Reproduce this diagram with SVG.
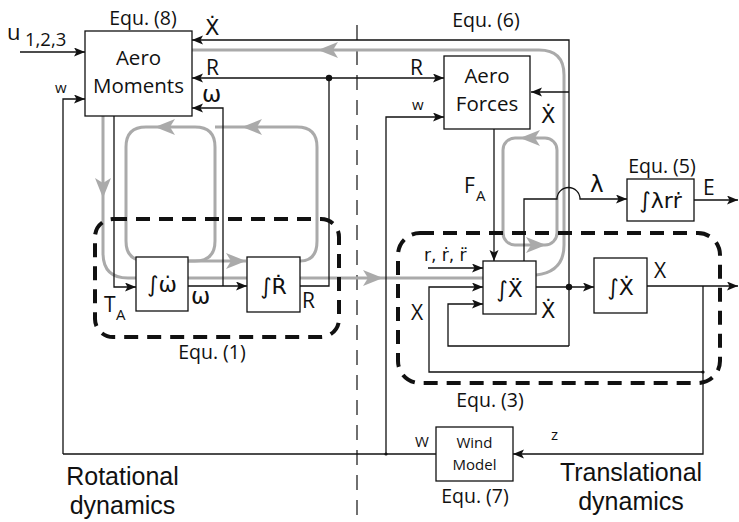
<svg xmlns="http://www.w3.org/2000/svg" width="739" height="522" viewBox="0 0 739 522">
<style>
.t{font-family:"Open Sans","DejaVu Sans",sans-serif;fill:#111}
.m{font-family:"DejaVu Sans","Open Sans",sans-serif;fill:#111}
.big{font-family:"Liberation Sans","Open Sans",sans-serif;fill:#111;font-size:25px;text-anchor:middle}
.eq{font-family:"Open Sans","DejaVu Sans",sans-serif;fill:#111;font-size:19.5px;text-anchor:middle}
.box{fill:#fff;stroke:#111;stroke-width:1.3}
.ln{fill:none;stroke:#111;stroke-width:1.3}
.gr{fill:none;stroke:#aaa;stroke-width:3}
.dsh{fill:none;stroke:#111;stroke-width:4;stroke-dasharray:14 9}
.div{fill:none;stroke:#111;stroke-width:1.2;stroke-dasharray:15 10}
</style>
<defs>
<marker id="ah" markerUnits="userSpaceOnUse" markerWidth="12" markerHeight="10" refX="11" refY="4.5" orient="auto">
<path d="M0,0 L11,4.5 L0,9 L2.5,4.5 z" fill="#111"/>
</marker>
<path id="ga" d="M0,0 L-20,-8 L-15,0 L-20,8 z" fill="#aaa"/>
</defs>

<line class="div" x1="357" y1="25" x2="357" y2="522"/>

<g id="gray-flows">
<path class="gr" d="M103,116 V253 Q103,278 128,278 H483"/>
<path class="gr" d="M188,261 H195 Q215,261 215,241 V147 Q215,127 195,127 H146 Q126,127 126,147 V241 Q126,261 146,261"/>
<path class="gr" d="M300,261 Q317,261 317,241 V147 Q317,127 297,127 H215"/>
<path class="gr" d="M188,261 H246"/>
<path class="gr" d="M536,275 Q564,272 564,245 V75 Q564,50 539,50 H192"/>
<rect class="gr" x="503" y="138" width="54" height="107" rx="12"/>
<use href="#ga" transform="translate(103,198) rotate(90)"/>
<use href="#ga" transform="translate(155,127) rotate(180)"/>
<use href="#ga" transform="translate(242,127) rotate(180)"/>
<use href="#ga" transform="translate(246,261)"/>
<use href="#ga" transform="translate(383,278)"/>
<use href="#ga" transform="translate(318,50) rotate(180)"/>
<use href="#ga" transform="translate(520,138) rotate(180)"/>
<use href="#ga" transform="translate(546,245)"/>
</g>

<g id="connectors">
<path class="ln" d="M20,52 H85" marker-end="url(#ah)"/>
<path class="ln" d="M63,454 V99 H85" marker-end="url(#ah)"/>
<path class="ln" d="M569,346 V40 H192" marker-end="url(#ah)"/>
<path class="ln" d="M569,92 H531" marker-end="url(#ah)"/>
<path class="ln" d="M569,346 H448 V304 H483" marker-end="url(#ah)"/>
<path class="ln" d="M300,286 H329 V78 H192" marker-end="url(#ah)"/>
<path class="ln" d="M329,78 H444" marker-end="url(#ah)"/>
<path class="ln" d="M188,286 H247" marker-end="url(#ah)"/>
<path class="ln" d="M223,286 V108 H192" marker-end="url(#ah)"/>
<path class="ln" d="M114,116 V287 H136" marker-end="url(#ah)"/>
<path class="ln" d="M436,454 H63"/>
<path class="ln" d="M386,454 V117 H444" marker-end="url(#ah)"/>
<path class="ln" d="M647,286 H738" marker-end="url(#ah)"/>
<path class="ln" d="M703,286 V454 H513" marker-end="url(#ah)"/>
<path class="ln" d="M703,372 H429 V287 H483" marker-end="url(#ah)"/>
<path class="ln" d="M494,129 V261" marker-end="url(#ah)"/>
<path class="ln" d="M428,268 H483" marker-end="url(#ah)"/>
<path class="ln" d="M536,287 H594" marker-end="url(#ah)"/>
<path class="ln" d="M524,261 V199 H557 A11.5,11.5 0 0 1 580,199 H627" marker-end="url(#ah)"/>
<path class="ln" d="M694,200 H738" marker-end="url(#ah)"/>
<circle cx="329" cy="78" r="3.2" fill="#111"/>
<circle cx="569" cy="287" r="3.2" fill="#111"/>
<circle cx="386" cy="454" r="1.6" fill="#111"/>
<circle cx="703" cy="372" r="1.6" fill="#111"/>
</g>

<g id="equ1-frame"><rect class="dsh" x="95" y="219" width="244" height="118" rx="18"/></g>
<g id="equ3-frame"><rect class="dsh" x="398" y="233" width="322" height="150" rx="22"/></g>

<g id="aero-moments">
<rect class="box" x="85" y="31" width="107" height="85"/>
<text class="t" x="138.5" y="65" font-size="20.5" text-anchor="middle">Aero</text>
<text class="t" x="138.5" y="93" font-size="20.5" text-anchor="middle">Moments</text>
<text class="eq" x="143" y="25">Equ. (8)</text>
</g>
<g id="aero-forces">
<rect class="box" x="444" y="56" width="86" height="73"/>
<text class="t" x="487" y="83" font-size="20.5" text-anchor="middle">Aero</text>
<text class="t" x="487" y="111" font-size="20.5" text-anchor="middle">Forces</text>
</g>
<g id="int-omega">
<rect class="box" x="136" y="257" width="52" height="54"/>
<text class="m" x="162" y="292" font-size="22" text-anchor="middle">∫ω̇</text>
</g>
<g id="int-R">
<rect class="box" x="247" y="257" width="53" height="55"/>
<text class="m" x="273.5" y="294" font-size="22" text-anchor="middle">∫Ṙ</text>
</g>
<g id="int-Xdd">
<rect class="box" x="483" y="261" width="53" height="53"/>
<text class="m" x="509.5" y="297" font-size="22" text-anchor="middle">∫Ẍ</text>
</g>
<g id="int-Xd">
<rect class="box" x="594" y="258" width="53" height="55"/>
<text class="m" x="620.5" y="295" font-size="22" text-anchor="middle">∫Ẋ</text>
</g>
<g id="equ5">
<rect class="box" x="627" y="179" width="67" height="42"/>
<text class="m" x="660.5" y="208" font-size="22" text-anchor="middle">∫λrṙ</text>
<text class="eq" x="662" y="173">Equ. (5)</text>
</g>
<g id="wind-model">
<rect class="box" x="436" y="427" width="77" height="54"/>
<text class="t" x="474.5" y="448" font-size="15" text-anchor="middle">Wind</text>
<text class="t" x="474.5" y="470" font-size="15" text-anchor="middle">Model</text>
<text class="eq" x="475" y="503">Equ. (7)</text>
</g>

<g id="labels">
<text class="t" x="7" y="40" font-size="22">u</text>
<text class="t" x="25" y="46" font-size="18.5">1,2,3</text>
<text class="t" x="55" y="93" font-size="15">w</text>
<text class="m" x="205" y="35" font-size="21">Ẋ</text>
<text class="t" x="206" y="75" font-size="21">R</text>
<text class="m" x="202" y="102" font-size="23">ω</text>
<text class="t" x="410" y="75" font-size="21">R</text>
<text class="t" x="412" y="110" font-size="15">w</text>
<text class="m" x="541" y="123" font-size="21">Ẋ</text>
<text class="eq" x="486" y="27">Equ. (6)</text>
<text class="t" x="464" y="193" font-size="21">F</text>
<text class="t" x="476" y="201" font-size="15">A</text>
<text class="m" x="590" y="192" font-size="23">λ</text>
<text class="t" x="703" y="195" font-size="21">E</text>
<text class="m" x="424" y="261" font-size="17">r, ṙ, r̈</text>
<text class="t" x="411" y="320" font-size="21">X</text>
<text class="m" x="541" y="318" font-size="21">Ẋ</text>
<text class="t" x="654" y="278" font-size="21">X</text>
<text class="t" x="104" y="312" font-size="21">T</text>
<text class="t" x="116" y="320" font-size="15">A</text>
<text class="m" x="191" y="304" font-size="23">ω</text>
<text class="t" x="302" y="308" font-size="21">R</text>
<text class="eq" x="212" y="359">Equ. (1)</text>
<text class="eq" x="490" y="407">Equ. (3)</text>
<text class="t" x="415" y="447" font-size="15">W</text>
<text class="t" x="551" y="440" font-size="15">z</text>
<text class="big" x="122.5" y="485">Rotational</text>
<text class="big" x="122.5" y="514">dynamics</text>
<text class="big" x="631" y="481">Translational</text>
<text class="big" x="631" y="510">dynamics</text>
</g>
</svg>
